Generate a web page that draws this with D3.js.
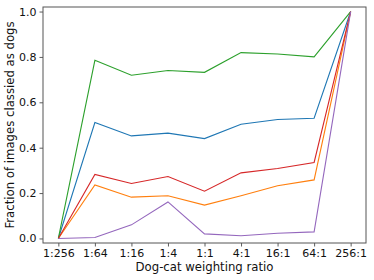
<!DOCTYPE html>
<html>
<head>
<meta charset="utf-8">
<script src="https://cdn.jsdelivr.net/npm/d3@7"></script>
<style>
  body { margin: 0; background: #fff; }
  text { font-family: "DejaVu Sans", sans-serif; }
</style>
</head>
<body>
<svg id="chart" width="374" height="280"></svg>
<script>
let ratios = ["1:256", "1:64", "1:16", "1:4", "1:1", "4:1", "16:1", "64:1", "256:1"]
let yTicks = [0.0, 0.2, 0.4, 0.6, 0.8, 1.0]

// one list per line, in drawing order
let blue   = [0, 0.511, 0.452, 0.464, 0.440, 0.503, 0.524, 0.530, 1.0]
let orange = [0, 0.236, 0.182, 0.188, 0.147, 0.188, 0.232, 0.258, 1.0]
let green  = [0, 0.785, 0.719, 0.740, 0.732, 0.819, 0.813, 0.800, 1.0]
let red    = [0, 0.282, 0.242, 0.273, 0.208, 0.289, 0.308, 0.335, 1.0]
let purple = [0, 0.004, 0.060, 0.161, 0.020, 0.012, 0.023, 0.029, 1.0]

let series = [
  { values: blue, color: "#1f77b4" },
  { values: orange, color: "#ff7f0e" },
  { values: green, color: "#2ca02c" },
  { values: red, color: "#d62728" },
  { values: purple, color: "#9467bd" }
]

let svg = d3.select("#chart")
let plotLeft = 43, plotRight = 366, plotTop = 7, plotBottom = 243

let xScale = d3.scaleLinear().domain([-0.42, 8.42]).range([plotLeft, plotRight])
let yScale = d3.scaleLinear().domain([-0.02, 1.02]).range([plotBottom, plotTop])

let xAxis = d3.axisBottom(xScale)
  .tickValues(d3.range(ratios.length))
  .tickFormat(i => ratios[i])
  .tickSize(3.5).tickPadding(3)
let xAxisGroup = svg.append("g")
  .attr("transform", `translate(0, ${plotBottom})`)
  .call(xAxis)

let yAxis = d3.axisLeft(yScale)
  .tickValues(yTicks)
  .tickFormat(d3.format(".1f"))
  .tickSize(3.5).tickPadding(3)
let yAxisGroup = svg.append("g")
  .attr("transform", `translate(${plotLeft}, 0)`)
  .call(yAxis)

svg.selectAll(".domain").remove()
svg.selectAll(".tick line").attr("stroke", "#333").attr("stroke-width", 0.8)
svg.selectAll(".tick text").style("font-size", "11px").attr("fill", "#111")

let line = d3.line()
  .x((d, i) => xScale(i))
  .y(d => yScale(d))

svg.selectAll("path.series")
  .data(series)
  .enter()
  .append("path")
  .attr("class", "series")
  .attr("d", d => line(d.values))
  .attr("fill", "none")
  .attr("stroke", d => d.color)
  .attr("stroke-width", 1.1)

// frame
svg.append("rect")
  .attr("x", plotLeft)
  .attr("y", plotTop)
  .attr("width", plotRight - plotLeft)
  .attr("height", plotBottom - plotTop)
  .attr("fill", "none")
  .attr("stroke", "#555")
  .attr("stroke-width", 1)

svg.append("text")
  .attr("x", (plotLeft + plotRight) / 2)
  .attr("y", 271)
  .attr("text-anchor", "middle")
  .style("font-size", "11.7px")
  .attr("fill", "#111")
  .text("Dog-cat weighting ratio")

svg.append("text")
  .attr("transform", `translate(13.5, ${(plotTop + plotBottom) / 2}) rotate(-90)`)
  .attr("text-anchor", "middle")
  .style("font-size", "11.7px")
  .attr("fill", "#111")
  .text("Fraction of images classied as dogs")
</script>
</body>
</html>
